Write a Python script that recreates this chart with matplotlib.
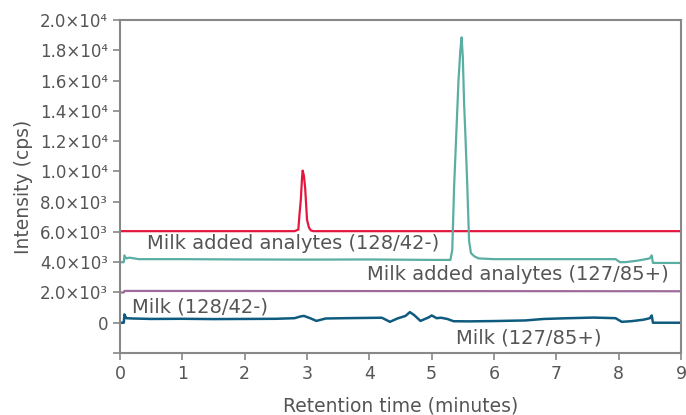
import matplotlib.pyplot as plt

plt.rcParams['font.family'] = ['DejaVu Sans']

# traces (time in minutes, intensity in cps)
red_t = [0, 2.80, 2.86, 2.88, 2.90, 2.92, 2.93, 2.95, 2.97, 3.00, 3.03, 3.06, 3.10, 9.0]
red_y = [6050, 6050, 6150, 7200, 8100, 9600, 10050, 9700, 8900, 6800, 6300, 6100, 6050, 6050]

teal_t = [0, 0.06, 0.07, 0.10, 0.15, 0.3, 1.0, 2.0, 3.0, 4.0, 5.0, 5.30, 5.33, 5.36,
          5.38, 5.40, 5.43, 5.46, 5.48, 5.50, 5.52, 5.54, 5.57, 5.60, 5.63, 5.68,
          5.75, 6.0, 7.0, 7.95, 8.02, 8.1, 8.3, 8.5, 8.53, 8.55, 9.0]
teal_y = [4000, 4000, 4450, 4250, 4300, 4200, 4200, 4180, 4170, 4180, 4150, 4150,
          4800, 9000, 11000, 13000, 16000, 18000, 18850, 17500, 14500, 12500, 9200,
          5400, 4600, 4400, 4250, 4200, 4200, 4200, 4000, 4000, 4100, 4250, 4450,
          3950, 3950]

purple_t = [0, 0.06, 0.07, 9.0]
purple_y = [2000, 2000, 2100, 2080]

blue_t = [0, 0.06, 0.07, 0.10, 0.2, 0.5, 1.0, 1.5, 2.0, 2.5, 2.8, 2.9, 2.95, 3.05,
          3.15, 3.3, 3.6, 4.0, 4.2, 4.33, 4.45, 4.58, 4.65, 4.72, 4.82, 4.95, 5.0,
          5.08, 5.15, 5.25, 5.35, 5.6, 6.0, 6.5, 6.8, 7.2, 7.6, 7.95, 8.05, 8.2,
          8.4, 8.5, 8.53, 8.55, 9.0]
blue_y = [0, 0, 550, 300, 280, 250, 260, 240, 250, 260, 300, 420, 450, 300, 120,
          280, 300, 320, 330, 60, 280, 450, 700, 500, 120, 350, 480, 300, 330, 250,
          100, 90, 110, 150, 250, 300, 340, 300, 60, 100, 200, 300, 480, 0, 0]

yticks = [-2000, 0, 2000, 4000, 6000, 8000, 10000, 12000, 14000, 16000, 18000, 20000]
ytick_labels = ['', '0', '2.0×10³', '4.0×10³', '6.0×10³', '8.0×10³', '1.0×10⁴',
                '1.2×10⁴', '1.4×10⁴', '1.6×10⁴', '1.8×10⁴', '2.0×10⁴']

labels = ['Milk added analytes (128/42-)', 'Milk added analytes (127/85+)',
          'Milk (128/42-)', 'Milk (127/85+)']
label_pos = [(2.78, 5230), (6.39, 3180), (1.28, 1060), (6.55, -990)]

fig = plt.figure(figsize=(6.86, 4.15), dpi=100)
ax = fig.add_axes([0.175, 0.1494, 0.8177, 0.8024])

ax.plot(red_t, red_y, color='#e4173f', lw=1.6)
ax.plot(teal_t, teal_y, color='#5aafa2', lw=1.6)
ax.plot(purple_t, purple_y, color='#9e6a9e', lw=1.6)
ax.plot(blue_t, blue_y, color='#0f5b80', lw=1.8)

for txt, (x, y) in zip(labels, label_pos):
    ax.text(x, y, txt, ha='center', va='center', fontsize=14, color='#555555')

ax.set_xlim(0, 9)
ax.set_ylim(-2000, 20000)
ax.set_xticks(range(10))
ax.set_yticks(yticks)
ax.set_yticklabels(ytick_labels)
ax.tick_params(colors='#888888', labelcolor='#555555', labelsize=12.5, length=5, width=1.2)
ax.tick_params(axis='y', labelsize=12)
for s in ax.spines.values():
    s.set_color('#888888')
    s.set_linewidth(1.5)

ax.set_xlabel('Retention time (minutes)', fontsize=13.5, color='#555555', labelpad=10)
ax.set_ylabel('Intensity (cps)', fontsize=13.5, color='#555555', labelpad=5)

fig.savefig('out.png', dpi=100)
